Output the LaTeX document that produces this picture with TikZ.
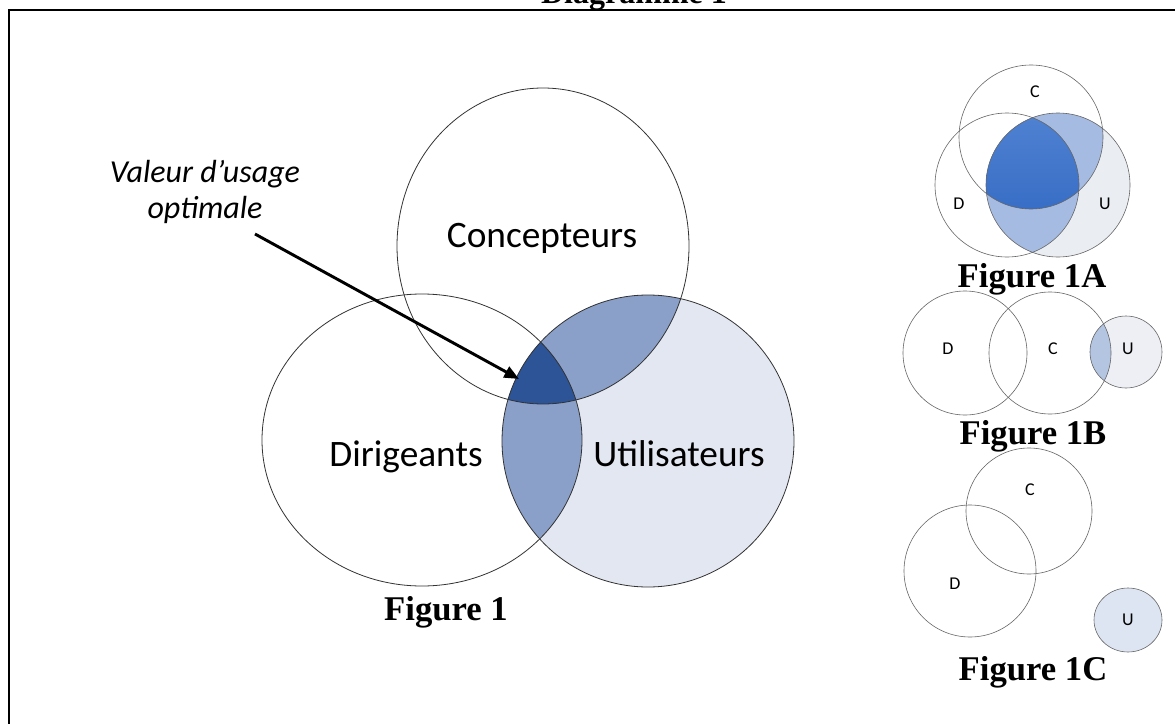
\documentclass[tikz,border=0pt]{standalone}
\usepackage{fontspec}
\setmainfont{Carlito}
\newfontfamily\figfont{Liberation Serif}
\usetikzlibrary{arrows.meta}
\definecolor{ulight}{RGB}{227,231,241}
\definecolor{umed}{RGB}{138,160,200}
\definecolor{udark}{RGB}{45,84,150}
\definecolor{alight}{RGB}{234,237,241}
\definecolor{amed}{RGB}{165,187,225}
\definecolor{adarktop}{RGB}{92,140,215}
\definecolor{adarkbot}{RGB}{56,110,198}
\definecolor{blens}{RGB}{180,197,226}
\definecolor{blight}{RGB}{237,239,244}
\definecolor{cfill}{RGB}{221,229,243}
\tikzset{
  x=0.75pt,y=-0.75pt,
  bigcirc/.style={draw=black!80,line width=0.6pt},
  smallcirc/.style={draw=black!60,line width=0.45pt},
  biglabel/.style={font=\fontsize{28}{32}\selectfont,anchor=base,inner sep=0pt},
  smalllabel/.style={font=\fontsize{13.5}{16}\selectfont,inner sep=0pt},
  figlabel/.style={font=\figfont\bfseries\fontsize{26}{30}\selectfont,anchor=base,inner sep=0pt},
  notelabel/.style={font=\itshape\fontsize{24}{28}\selectfont,anchor=base,inner sep=0pt},
  pointer/.style={line width=2.2pt,-{Triangle[length=11pt,width=9pt]}}
}
\begin{document}
\begin{tikzpicture}
\useasboundingbox (0,0) rectangle (1175,724);
\clip (0,0) rectangle (1175,724);
\fill[white] (0,0) rectangle (1175,724);
% frame
\draw[line width=1.6pt] (9,730) -- (9,10) -- (1185,10);
\node[figlabel,font=\figfont\bfseries\fontsize{24}{28}\selectfont] (title) at (634,4) {Diagramme 1};

% ---------- Figure 1 ----------
\def\Cc{(543,246) ellipse [x radius=146,y radius=158]}
\def\Dc{(422,440) ellipse [x radius=160,y radius=146]}
\def\Uc{(648,441) circle (146)}
\fill[ulight] \Uc;
\begin{scope}\clip \Uc; \fill[umed] \Dc; \fill[umed] \Cc; \end{scope}
\begin{scope}\clip \Uc; \clip \Dc; \fill[udark] \Cc; \end{scope}
\draw[bigcirc] \Cc;
\draw[bigcirc] \Dc;
\draw[bigcirc] \Uc;
\node[biglabel] (conc) at (542,247) {Concepteurs};
\node[biglabel] (dirig) at (406,466) {Dirigeants};
\node[biglabel] (util) at (679,466) {Utilisateurs};
\node[notelabel] (val) at (205,182) {Valeur d’usage};
\node[notelabel] (opt) at (205,218) {optimale};
\coordinate (arrstart) at (255,234);
\coordinate (arrend) at (519,379);
\draw[pointer] (arrstart) -- (arrend);
\node[figlabel] (f1) at (446,620) {Figure 1};

% ---------- Figure 1A ----------
\def\aC{(1031,137) circle (72)}
\def\aD{(1007,185) circle (72)}
\def\aU{(1058,185) circle (72)}
\fill[alight] \aU;
\begin{scope}\clip \aU; \fill[amed] \aD; \fill[amed] \aC; \end{scope}
\begin{scope}\clip \aU; \clip \aD; \shade[top color=adarktop,bottom color=adarkbot] \aC; \end{scope}
\draw[smallcirc] \aC;
\draw[smallcirc] \aD;
\draw[smallcirc] \aU;
\node[smalllabel] (aCl) at (1035,92) {C};
\node[smalllabel] (aDl) at (959,204) {D};
\node[smalllabel] (aUl) at (1105,204) {U};
\node[figlabel] (f1a) at (1032,287) {Figure 1A};

% ---------- Figure 1B ----------
\def\bD{(965,353) circle (62)}
\def\bC{(1050,353) circle (61)}
\def\bU{(1126,352) circle (36)}
\fill[blight] \bU;
\begin{scope}\clip \bU; \fill[blens] \bC; \end{scope}
\draw[smallcirc] \bD;
\draw[smallcirc] \bC;
\draw[smallcirc] \bU;
\node[smalllabel] (bDl) at (948,349) {D};
\node[smalllabel] (bCl) at (1053,349) {C};
\node[smalllabel] (bUl) at (1128,349) {U};
\node[figlabel] (f1b) at (1033,444) {Figure 1B};

% ---------- Figure 1C ----------
\def\cC{(1029,511) circle (63)}
\def\cD{(970,571) circle (66)}
\def\cU{(1128,620) ellipse [x radius=34,y radius=32]}
\draw[smallcirc] \cC;
\draw[smallcirc] \cD;
\draw[smallcirc,fill=cfill] \cU;
\node[smalllabel] (cCl) at (1030,490) {C};
\node[smalllabel] (cDl) at (955,584) {D};
\node[smalllabel] (cUl) at (1128,620) {U};
\node[figlabel] (f1c) at (1033,680) {Figure 1C};
\end{tikzpicture}
\end{document}
